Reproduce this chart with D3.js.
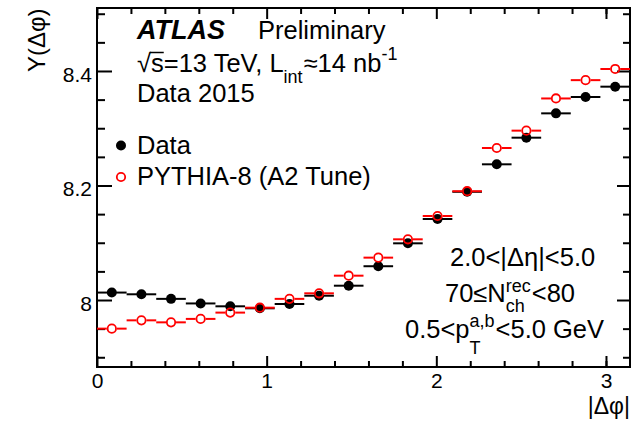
<!DOCTYPE html>
<html>
<head>
<meta charset="utf-8">
<script src="https://cdn.jsdelivr.net/npm/d3@7"></script>
<style>
  body { margin: 0; background: #fff; }
  text { font-family: "Liberation Sans", Arial, Helvetica, sans-serif; fill: #000; }
</style>
</head>
<body>
<svg width="638" height="424"></svg>
<script>
// |dphi| histogram: 18 bins over [0, pi]
const nBins = 18;
const dataY = [8.013, 8.010, 8.002, 7.994, 7.989, 7.9855, 7.993, 8.0075, 8.025,
  8.059, 8.099, 8.1415, 8.189, 8.237, 8.2835, 8.326, 8.3546, 8.3726];
const pythiaY = [7.950, 7.9645, 7.961, 7.967, 7.978, 7.9866, 8.002, 8.0117, 8.0425,
  8.074, 8.106, 8.1467, 8.190, 8.2655, 8.2958, 8.352, 8.384, 8.4035];

const xMajor = [0, 1, 2, 3];
const xMinor = [0.2, 0.4, 0.6, 0.8, 1.2, 1.4, 1.6, 1.8, 2.2, 2.4, 2.6, 2.8, 3.0];
const yMajor = [8, 8.2, 8.4];
const yMinor = [7.9, 7.95, 8.05, 8.1, 8.15, 8.25, 8.3, 8.35, 8.45, 8.5];

const mLeft = 97, mRight = 630, mTop = 8, mBottom = 367;
const fs = 25.5;
const svg = d3.select("svg");

const x = d3.scaleLinear().domain([0, Math.PI]).range([mLeft, mRight]);
const y = d3.scaleLinear().domain([7.883, 8.51]).range([mBottom, mTop]);
const binW = Math.PI / nBins;

// axes, ticks pointing inward
const fmtY = (d) => (d === 8 ? "8" : d3.format(".1f")(d));
svg.append("g").attr("transform", `translate(${mLeft},0)`)
  .call(d3.axisLeft(y).tickValues(yMajor).tickSizeInner(-15).tickSizeOuter(0).tickPadding(5).tickFormat(fmtY))
  .call((g) => g.selectAll("text").attr("font-size", 21).attr("dy", "0.48em"));
svg.append("g").attr("transform", `translate(${mLeft},0)`)
  .call(d3.axisLeft(y).tickValues(yMinor).tickSizeInner(-8).tickSizeOuter(0).tickFormat(""));
svg.append("g").attr("transform", `translate(${mRight},0)`)
  .call(d3.axisRight(y).tickValues(yMajor).tickSizeInner(-13).tickSizeOuter(0).tickFormat(""));
svg.append("g").attr("transform", `translate(${mRight},0)`)
  .call(d3.axisRight(y).tickValues(yMinor).tickSizeInner(-7).tickSizeOuter(0).tickFormat(""));

svg.append("g").attr("transform", `translate(0,${mBottom})`)
  .call(d3.axisBottom(x).tickValues(xMajor).tickSizeInner(-11).tickSizeOuter(0).tickPadding(6).tickFormat(d3.format("d")))
  .call((g) => g.selectAll("text").attr("font-size", 21));
svg.append("g").attr("transform", `translate(0,${mBottom})`)
  .call(d3.axisBottom(x).tickValues(xMinor).tickSizeInner(-6).tickSizeOuter(0).tickFormat(""));
svg.append("g").attr("transform", `translate(0,${mTop})`)
  .call(d3.axisTop(x).tickValues(xMajor).tickSizeInner(-11).tickSizeOuter(0).tickFormat(""));
svg.append("g").attr("transform", `translate(0,${mTop})`)
  .call(d3.axisTop(x).tickValues(xMinor).tickSizeInner(-6).tickSizeOuter(0).tickFormat(""));

svg.selectAll(".domain").remove();
svg.selectAll(".tick line").attr("stroke", "#000").attr("stroke-width", 2);
svg.selectAll(".tick text").attr("fill", "#000").style("font-family", '"Liberation Sans", Arial, sans-serif');

svg.append("rect")
  .attr("x", mLeft).attr("y", mTop)
  .attr("width", mRight - mLeft).attr("height", mBottom - mTop)
  .attr("fill", "none").attr("stroke", "#000").attr("stroke-width", 2);

// data points
const r = 5;
const plot = svg.append("g");

plot.selectAll(".dbar").data(dataY).enter().append("line")
  .attr("x1", (d, i) => x(i * binW)).attr("x2", (d, i) => x((i + 1) * binW))
  .attr("y1", (d) => y(d)).attr("y2", (d) => y(d))
  .attr("stroke", "#000").attr("stroke-width", 2);
plot.selectAll(".ddot").data(dataY).enter().append("circle")
  .attr("cx", (d, i) => x((i + 0.5) * binW)).attr("cy", (d) => y(d))
  .attr("r", r).attr("fill", "#000");

const pBars = plot.selectAll(".pbar").data(pythiaY).enter().append("g");
pBars.append("line")
  .attr("x1", (d, i) => x(i * binW)).attr("x2", (d, i) => x((i + 0.5) * binW) - r)
  .attr("y1", (d) => y(d)).attr("y2", (d) => y(d));
pBars.append("line")
  .attr("x1", (d, i) => x((i + 0.5) * binW) + r).attr("x2", (d, i) => x((i + 1) * binW))
  .attr("y1", (d) => y(d)).attr("y2", (d) => y(d));
pBars.selectAll("line").attr("stroke", "#ff0000").attr("stroke-width", 2);
plot.selectAll(".pdot").data(pythiaY).enter().append("circle")
  .attr("cx", (d, i) => x((i + 0.5) * binW)).attr("cy", (d) => y(d))
  .attr("r", r - 0.8).attr("fill", "none").attr("stroke", "#ff0000").attr("stroke-width", 1.8);

// axis titles
svg.append("text")
  .attr("transform", "translate(45,72) rotate(-90)")
  .attr("font-size", 24).text("Y(Δφ)");
svg.append("text")
  .attr("x", 630).attr("y", 414).attr("text-anchor", "end")
  .attr("font-size", 23).text("|Δφ|");

// rich text helper: main text with stacked sub/superscripts
function rich(x0, y0, parts) {
  let cx = x0;
  parts.forEach((p) => {
    if (p.t !== undefined) {
      const t = svg.append("text").attr("x", cx).attr("y", y0)
        .attr("font-size", fs).text(p.t);
      cx += t.node().getComputedTextLength() + (p.gap || 0);
    } else {
      let w = 0;
      if (p.sup) {
        const s = svg.append("text").attr("x", cx).attr("y", y0 + p.supDy)
          .attr("font-size", 18).text(p.sup);
        w = Math.max(w, s.node().getComputedTextLength());
      }
      if (p.sub) {
        const s = svg.append("text").attr("x", cx).attr("y", y0 + p.subDy)
          .attr("font-size", 18).text(p.sub);
        w = Math.max(w, s.node().getComputedTextLength());
      }
      cx += w + 1;
    }
  });
  return cx;
}

svg.append("text").attr("x", 137).attr("y", 39)
  .attr("font-size", 27).attr("font-weight", "bold").attr("font-style", "italic").text("ATLAS");
svg.append("text").attr("x", 258).attr("y", 39).attr("font-size", fs).text("Preliminary");

// sqrt(s) line
const rad = svg.append("text").attr("x", 137).attr("y", 71.5).attr("font-size", fs).text("√");
const radW = rad.node().getComputedTextLength();
const sEnd = rich(137 + radW, 71.5, [{ t: "s" }]);
svg.append("line")
  .attr("x1", 137 + radW - 1).attr("x2", sEnd)
  .attr("y1", 52.5).attr("y2", 52.5)
  .attr("stroke", "#000").attr("stroke-width", 1.5);
rich(sEnd, 71.5, [
  { t: "=13 TeV, L" },
  { sub: "int", subDy: 11 },
  { t: "≈14 nb" },
  { sup: "-1", supDy: -12 }
]);
svg.append("text").attr("x", 137).attr("y", 101.5).attr("font-size", fs).text("Data 2015");

// legend
svg.append("circle").attr("cx", 121).attr("cy", 145.5).attr("r", r).attr("fill", "#000");
svg.append("text").attr("x", 137).attr("y", 153.5).attr("font-size", fs).text("Data");
svg.append("circle").attr("cx", 121).attr("cy", 177).attr("r", r - 0.8)
  .attr("fill", "none").attr("stroke", "#ff0000").attr("stroke-width", 1.8);
svg.append("text").attr("x", 137).attr("y", 184.5).attr("font-size", fs).text("PYTHIA-8 (A2 Tune)");

// selection labels
rich(450, 265.5, [{ t: "2.0<|Δη|<5.0" }]);
rich(445, 302, [
  { t: "70≤N" },
  { sup: "rec", supDy: -10, sub: "ch", subDy: 10 },
  { t: "<80" }
]);
rich(405, 338, [
  { t: "0.5<p" },
  { sup: "a,b", supDy: -11, sub: "T", subDy: 16 },
  { t: "<5.0 GeV" }
]);
</script>
</body>
</html>
